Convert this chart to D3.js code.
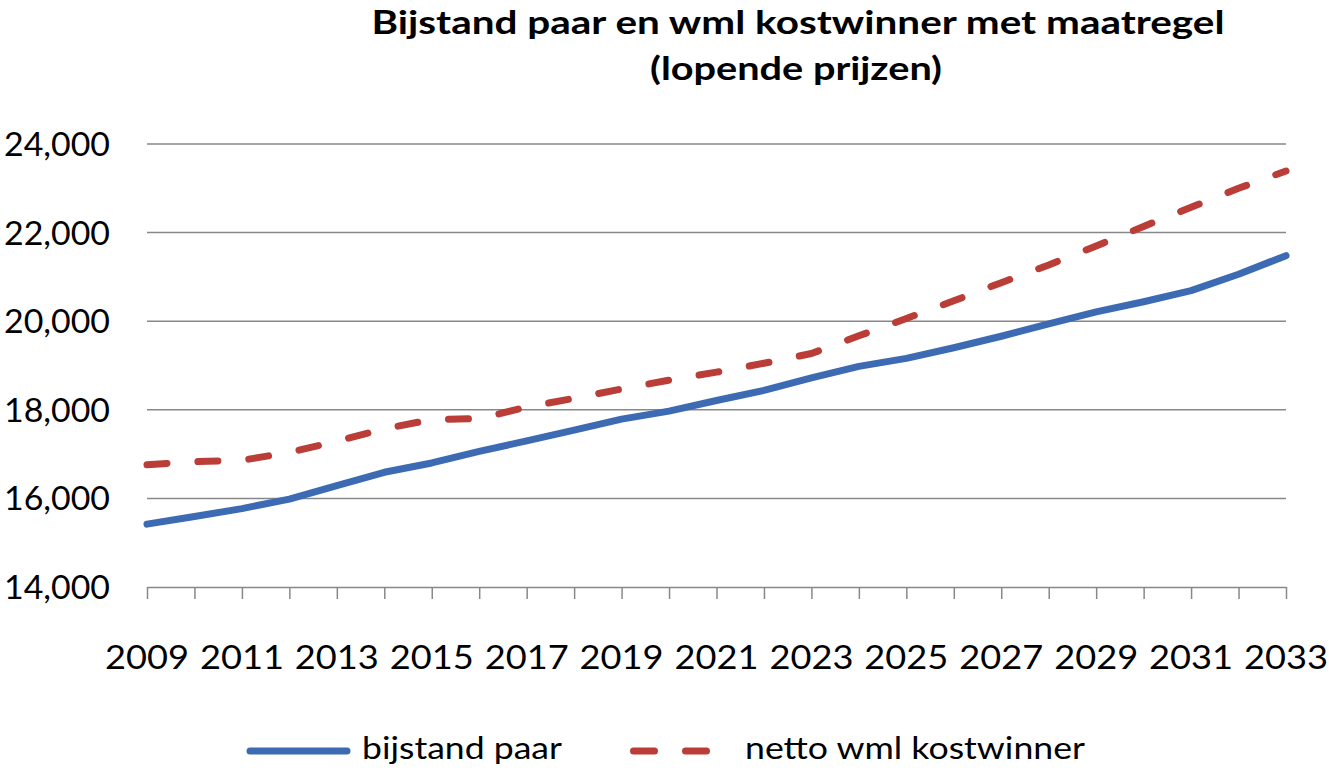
<!DOCTYPE html>
<html>
<head>
<meta charset="utf-8">
<script src="https://cdn.jsdelivr.net/npm/d3@7"></script>
<style>
  html, body { margin: 0; padding: 0; background: #fff; }
  svg { display: block; }
  text { font-family: Lato, "Open Sans", sans-serif; fill: #000; }
</style>
</head>
<body>
<svg id="chart" width="1329" height="772"></svg>
<script>
const titleLines = ["Bijstand paar en wml kostwinner met maatregel", "(lopende prijzen)"];
const years = [2009,2010,2011,2012,2013,2014,2015,2016,2017,2018,2019,2020,2021,2022,2023,2024,2025,2026,2027,2028,2029,2030,2031,2032,2033];
const bijstandPaar = [15420,15590,15770,15985,16290,16590,16800,17060,17300,17540,17790,17970,18210,18440,18720,18980,19160,19400,19660,19940,20210,20440,20690,21060,21480];
const nettoWml = [16760,16830,16860,17040,17290,17570,17780,17800,18060,18260,18470,18670,18850,19050,19270,19670,20060,20460,20870,21270,21700,22140,22570,23000,23390];
const yTicks = [14000,16000,18000,20000,22000,24000];
const xTickLabels = [2009,2011,2013,2015,2017,2019,2021,2023,2025,2027,2029,2031,2033];
const seriesNames = ["bijstand paar", "netto wml kostwinner"];
const seriesColors = ["#3D6BB3", "#BA3D38"];

const svg = d3.select("#chart");
const x = d3.scaleLinear().domain([2009, 2033]).range([147, 1286]);
const y = d3.scaleLinear().domain([14000, 24000]).range([587, 144]);

// title
const titleX = 798;
svg.append("text").attr("x", titleX).attr("y", 34).attr("text-anchor", "middle")
  .attr("font-weight", "bold").attr("font-size", 33)
  .attr("textLength", 853).attr("lengthAdjust", "spacingAndGlyphs")
  .text(titleLines[0]);
svg.append("text").attr("x", titleX - 2).attr("y", 80).attr("text-anchor", "middle")
  .attr("font-weight", "bold").attr("font-size", 33)
  .attr("textLength", 292).attr("lengthAdjust", "spacingAndGlyphs")
  .text(titleLines[1]);

// gridlines
svg.append("g").selectAll("line").data(yTicks.filter(d => d !== 14000)).join("line")
  .attr("x1", x(2009)).attr("x2", x(2033))
  .attr("y1", d => y(d)).attr("y2", d => y(d))
  .attr("stroke", "#888").attr("stroke-width", 1.5);

// y labels
svg.append("g").selectAll("text").data(yTicks).join("text")
  .attr("x", 110).attr("y", d => y(d) + 12)
  .attr("text-anchor", "end").attr("font-size", 32)
  .attr("textLength", 106).attr("lengthAdjust", "spacingAndGlyphs")
  .text(d => d3.format(",")(d));

// x axis
const xAxis = d3.axisBottom(x)
  .tickValues(years)
  .tickSize(12)
  .tickSizeOuter(0)
  .tickFormat("");
const gx = svg.append("g").attr("transform", `translate(0,${y(14000)})`).call(xAxis);
gx.select(".domain").attr("stroke", "#888").attr("stroke-width", 1.5);
gx.selectAll(".tick line").attr("stroke", "#888").attr("stroke-width", 1.5);

svg.append("g").selectAll("text").data(xTickLabels).join("text")
  .attr("x", d => x(d)).attr("y", 669)
  .attr("text-anchor", "middle").attr("font-size", 32)
  .attr("textLength", 84).attr("lengthAdjust", "spacingAndGlyphs")
  .text(d => d);

// lines
const line = d3.line().x(d => x(d[0])).y(d => y(d[1]));
svg.append("path").datum(years.map((yr, i) => [yr, bijstandPaar[i]]))
  .attr("d", line).attr("fill", "none")
  .attr("stroke", seriesColors[0]).attr("stroke-width", 7)
  .attr("stroke-linejoin", "round").attr("stroke-linecap", "round");
svg.append("path").datum(years.map((yr, i) => [yr, nettoWml[i]]))
  .attr("d", line).attr("fill", "none")
  .attr("stroke", seriesColors[1]).attr("stroke-width", 7)
  .attr("stroke-dasharray", "20,31")
  .attr("stroke-linejoin", "round").attr("stroke-linecap", "round");

// legend
const lg = svg.append("g");
lg.append("line").attr("x1", 250).attr("x2", 347).attr("y1", 751).attr("y2", 751)
  .attr("stroke", seriesColors[0]).attr("stroke-width", 7).attr("stroke-linecap", "round");
lg.append("text").attr("x", 362).attr("y", 759).attr("font-size", 31)
  .attr("textLength", 200).attr("lengthAdjust", "spacingAndGlyphs")
  .text(seriesNames[0]);
lg.append("line").attr("x1", 633.5).attr("x2", 706.5).attr("y1", 751).attr("y2", 751)
  .attr("stroke", seriesColors[1]).attr("stroke-width", 7).attr("stroke-linecap", "round")
  .attr("stroke-dasharray", "21,31");
lg.append("text").attr("x", 745).attr("y", 759).attr("font-size", 31)
  .attr("textLength", 340).attr("lengthAdjust", "spacingAndGlyphs")
  .text(seriesNames[1]);
</script>
</body>
</html>
